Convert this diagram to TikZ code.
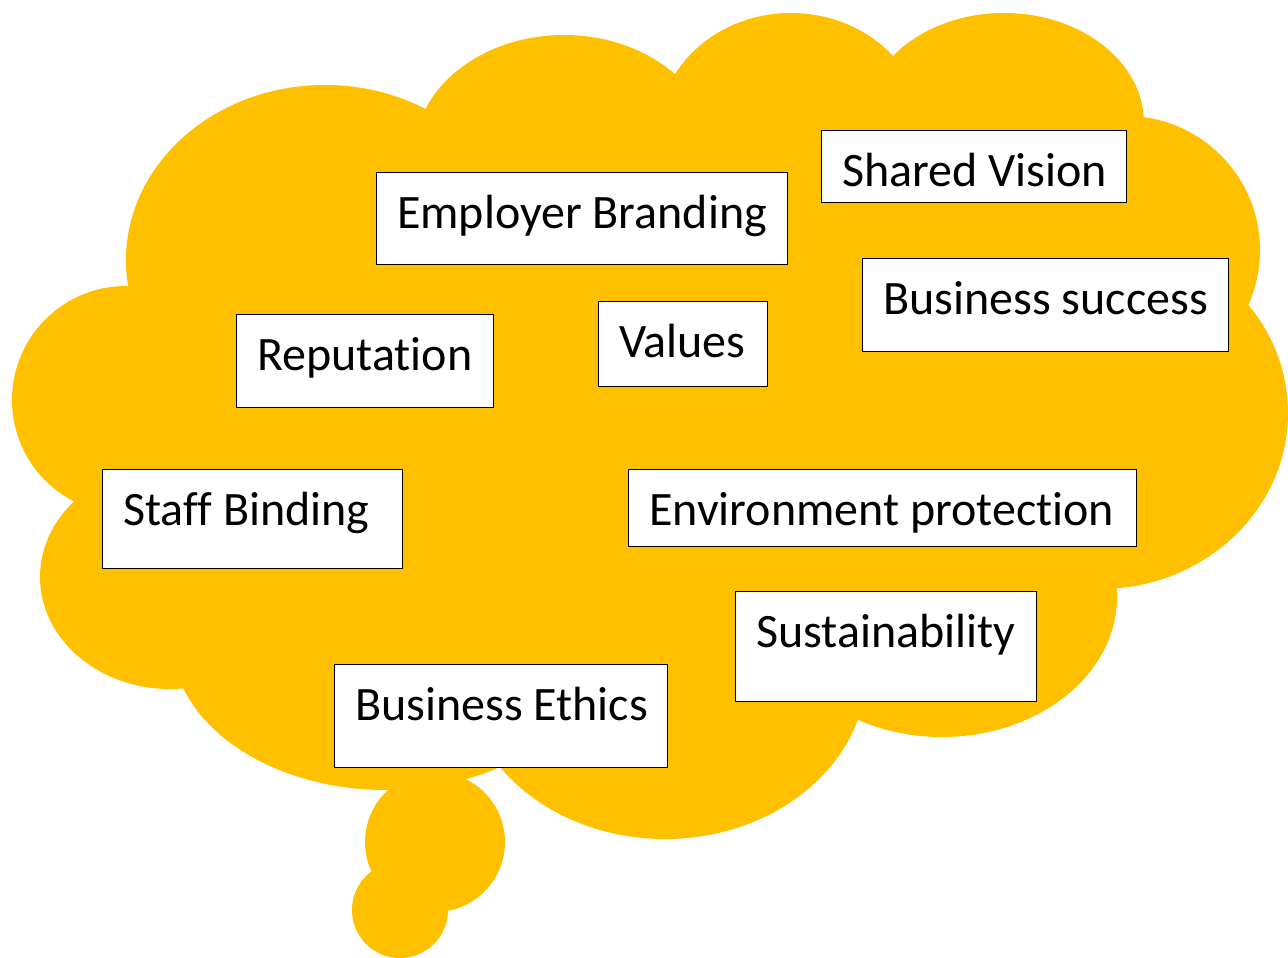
\documentclass[tikz,border=0pt]{standalone}
\usepackage{fontspec}
\setmainfont{Carlito}[Ligatures=NoCommon]
\definecolor{gold}{HTML}{FFC000}

\begin{document}
\begin{tikzpicture}[x=1pt,y=-1pt,
  tag/.style={draw=black,line width=1.1pt,fill=white,anchor=north west,inner sep=0pt},
  txt/.style={anchor=base west,inner sep=0pt,font=\fontsize{48}{58}\selectfont}]
  \useasboundingbox (0,0) rectangle (1288,958);

  % Cloud as a union of bumps
  \fill[gold] (325,260) ellipse [x radius=199pt, y radius=175pt];
  \fill[gold] (564,155) ellipse [x radius=150pt, y radius=120pt];
  \fill[gold] (791,133) ellipse [x radius=133pt, y radius=120pt];
  \fill[gold] (1004,123) ellipse [x radius=140pt, y radius=110pt];
  \fill[gold] (1126,250) circle [radius=134pt];
  \fill[gold] (1100,413) ellipse [x radius=188pt, y radius=176pt];
  \fill[gold] (942,597) ellipse [x radius=175pt, y radius=140pt];
  \fill[gold] (665,669) ellipse [x radius=202pt, y radius=170pt];
  \fill[gold] (386,640) ellipse [x radius=214pt, y radius=150pt];
  \fill[gold] (170,577) ellipse [x radius=130pt, y radius=112pt];
  \fill[gold] (126,400) circle [radius=114pt];
  \fill[gold] (325,260) -- (564,155) -- (791,133) -- (1004,123) -- (1126,250)
    -- (1100,413) -- (942,597) -- (665,669) -- (386,640) -- (170,577) -- (126,400) -- cycle;

  % Tail
  \fill[gold] (435,842) circle [radius=70pt];
  \fill[gold] (400,910) circle [radius=48pt];

  % Boxes
  \node[tag,minimum width=411pt,minimum height=92pt] (emp) at (376,172) {};
  \node[txt] at ([shift={(21,56)}]emp.north west) {Employer Branding};

  \node[tag,minimum width=305pt,minimum height=72pt] (vis) at (821,130) {};
  \node[txt] at ([shift={(21,56)}]vis.north west) {Shared Vision};

  \node[tag,minimum width=366pt,minimum height=93pt] (suc) at (862,258) {};
  \node[txt] at ([shift={(21,56)}]suc.north west) {Business success};

  \node[tag,minimum width=257pt,minimum height=93pt] (rep) at (236,314) {};
  \node[txt] at ([shift={(21,56)}]rep.north west) {Reputation};

  \node[tag,minimum width=169pt,minimum height=85pt] (val) at (598,301) {};
  \node[txt] at ([shift={(21,56)}]val.north west) {Values};

  \node[tag,minimum width=300pt,minimum height=99pt] (staff) at (102,469) {};
  \node[txt] at ([shift={(21,56)}]staff.north west) {Staff Binding};

  \node[tag,minimum width=508pt,minimum height=77pt] (env) at (628,469) {};
  \node[txt] at ([shift={(21,56)}]env.north west) {Environment protection};

  \node[tag,minimum width=301pt,minimum height=110pt] (sus) at (735,591) {};
  \node[txt] at ([shift={(21,56)}]sus.north west) {Sustainability};

  \node[tag,minimum width=333pt,minimum height=103pt] (eth) at (334,664) {};
  \node[txt] at ([shift={(21,56)}]eth.north west) {Business Ethics};
\end{tikzpicture}
\end{document}
